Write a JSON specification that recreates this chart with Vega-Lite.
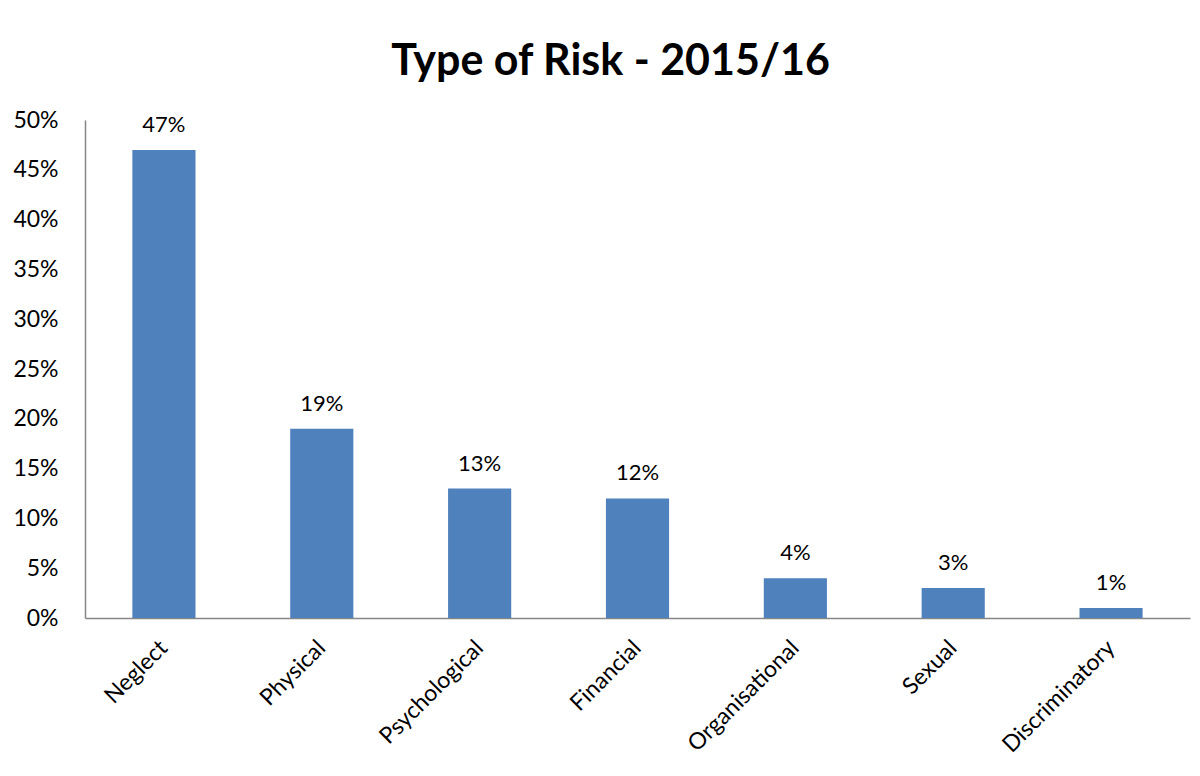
{
  "$schema": "https://vega.github.io/schema/vega-lite/v6.json",
  "width": 1105,
  "height": 498,
  "autosize": {"type": "none"},
  "padding": {"left": 85, "top": 120, "right": 10, "bottom": 158},
  "background": "white",
  "title": {
    "text": "Type of Risk - 2015/16",
    "font": "Lato",
    "fontSize": 43,
    "fontWeight": "bold",
    "color": "#000000",
    "anchor": "middle",
    "dx": -27,
    "offset": 25
  },
  "config": {
    "view": {"stroke": null},
    "font": "Lato"
  },
  "data": {
    "values": [
      {"type": "Neglect", "value": 0.47},
      {"type": "Physical", "value": 0.19},
      {"type": "Psychological", "value": 0.13},
      {"type": "Financial", "value": 0.12},
      {"type": "Organisational", "value": 0.04},
      {"type": "Sexual", "value": 0.03},
      {"type": "Discriminatory", "value": 0.01}
    ]
  },
  "encoding": {
    "x": {
      "field": "type",
      "type": "nominal",
      "sort": null,
      "scale": {"paddingInner": 0.6, "paddingOuter": 0.3},
      "axis": {
        "title": null,
        "labelAngle": -45,
        "labelAlign": "right",
        "labelBaseline": "middle",
        "labelFontSize": 23,
        "labelColor": "#000000",
        "labelFont": "Lato",
        "labelPadding": 26,
        "ticks": false,
        "domainColor": "#868686",
        "domainWidth": 1.5
      }
    },
    "y": {
      "field": "value",
      "type": "quantitative",
      "scale": {"domain": [0, 0.5]},
      "axis": {
        "title": null,
        "format": ".0%",
        "values": [0, 0.05, 0.1, 0.15, 0.2, 0.25, 0.3, 0.35, 0.4, 0.45, 0.5],
        "grid": false,
        "ticks": false,
        "labelFontSize": 23,
        "labelColor": "#000000",
        "labelFont": "Lato",
        "labelPadding": 27,
        "domainColor": "#868686",
        "domainWidth": 1.5
      }
    }
  },
  "layer": [
    {"mark": {"type": "bar", "color": "#4F81BD"}},
    {
      "mark": {"type": "text", "dy": -25, "fontSize": 22, "color": "#000000", "font": "Lato"},
      "encoding": {
        "text": {"field": "value", "type": "quantitative", "format": ".0%"}
      }
    }
  ]
}
